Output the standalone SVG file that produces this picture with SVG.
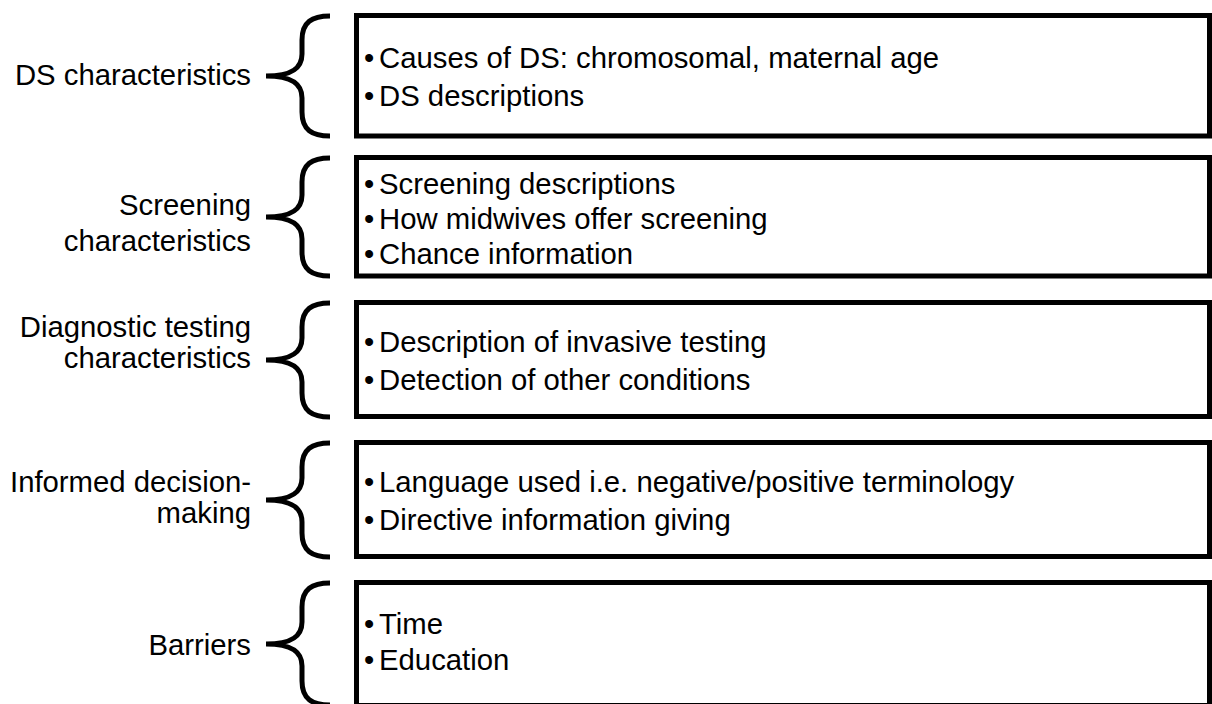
<svg xmlns="http://www.w3.org/2000/svg" width="1212" height="704" viewBox="0 0 1212 704">
<style>
.box{fill:#fff;stroke:#000;stroke-width:5}
.brace{fill:none;stroke:#000;stroke-width:5;stroke-linecap:butt}
text{font-family:"Liberation Sans",Arial,sans-serif;font-size:29.3px;fill:#000}
.lbl{text-anchor:end}
</style>
<rect width="1212" height="704" fill="#fff"/>
<g id="connectors">
<path class="brace" d="M330,16 C312,16 302,22 302,40 L302,54 C302,68 292,76 266,76 C292,76 302,84 302,98 L302,112 C302,130 312,136 330,136"/>
<path class="brace" d="M330,158 C312,158 302,164 302,182 L302,195 C302,209 292,217 266,217 C292,217 302,225 302,239 L302,252 C302,270 312,276 330,276"/>
<path class="brace" d="M330,303 C312,303 302,309 302,327 L302,338 C302,352 292,360 266,360 C292,360 302,368 302,382 L302,393 C302,411 312,417 330,417"/>
<path class="brace" d="M330,443 C312,443 302,449 302,467 L302,478 C302,492 292,500 266,500 C292,500 302,508 302,522 L302,533 C302,551 312,557 330,557"/>
<path class="brace" d="M330,583 C312,583 302,589 302,607 L302,622 C302,636 292,644 266,644 C292,644 302,652 302,666 L302,681 C302,699 312,705 330,705"/>
</g>
<g id="node-ds">
<text class="lbl" x="251" y="85">DS characteristics</text>
<rect class="box" x="356.5" y="15.5" width="853" height="120.5"/>
<text x="364" y="68">•<tspan x="379">Causes of DS: chromosomal, maternal age</tspan></text>
<text x="364" y="106">•<tspan x="379">DS descriptions</tspan></text>
</g>
<g id="node-screening">
<text class="lbl" x="251" y="215">Screening</text>
<text class="lbl" x="251" y="251">characteristics</text>
<rect class="box" x="356.5" y="157.5" width="853" height="118.5"/>
<text x="364" y="194">•<tspan x="379">Screening descriptions</tspan></text>
<text x="364" y="229">•<tspan x="379">How midwives offer screening</tspan></text>
<text x="364" y="264">•<tspan x="379">Chance information</tspan></text>
</g>
<g id="node-diagnostic">
<text class="lbl" x="251" y="337">Diagnostic testing</text>
<text class="lbl" x="251" y="368">characteristics</text>
<rect class="box" x="356.5" y="302.5" width="853" height="114"/>
<text x="364" y="352">•<tspan x="379">Description of invasive testing</tspan></text>
<text x="364" y="390">•<tspan x="379">Detection of other conditions</tspan></text>
</g>
<g id="node-informed">
<text class="lbl" x="251" y="492">Informed decision-</text>
<text class="lbl" x="251" y="523">making</text>
<rect class="box" x="356.5" y="442.5" width="853" height="114"/>
<text x="364" y="492">•<tspan x="379">Language used i.e. negative/positive terminology</tspan></text>
<text x="364" y="530">•<tspan x="379">Directive information giving</tspan></text>
</g>
<g id="node-barriers">
<text class="lbl" x="251" y="655">Barriers</text>
<rect class="box" x="356.5" y="582.5" width="853" height="123"/>
<text x="364" y="634">•<tspan x="379">Time</tspan></text>
<text x="364" y="670">•<tspan x="379">Education</tspan></text>
</g>
</svg>
